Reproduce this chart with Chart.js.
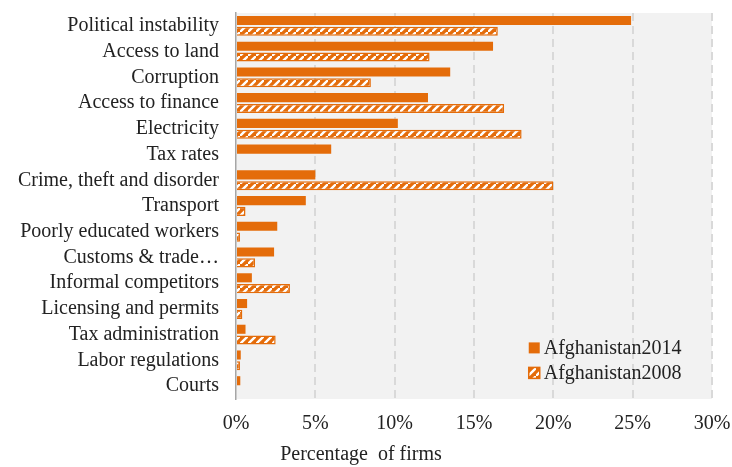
<!DOCTYPE html>
<html>
<head>
<meta charset="utf-8">
<script src="https://cdn.jsdelivr.net/npm/chart.js@4.4.1/dist/chart.umd.min.js"></script>
<style>
  html, body { margin: 0; padding: 0; background: #ffffff; }
  #wrap { width: 732px; height: 467px; }
</style>
</head>
<body>
<div id="wrap"><canvas id="barChart"></canvas></div>
<script>
// categories, top to bottom
const obstacles = ['Political instability', 'Access to land', 'Corruption', 'Access to finance',
  'Electricity', 'Tax rates', 'Crime, theft and disorder', 'Transport', 'Poorly educated workers',
  'Customs & trade\u2026', 'Informal competitors', 'Licensing and permits', 'Tax administration',
  'Labor regulations', 'Courts'];

// percentage of firms naming it the biggest obstacle
const afg2014 = [24.9, 16.2, 13.5, 12.1, 10.2, 6.0, 5.0, 4.4, 2.6, 2.4, 1.0, 0.7, 0.6, 0.3, 0.27];
const afg2008 = [16.5, 12.2, 8.5, 16.9, 18.0, 0, 20.0, 0.6, 0.25, 1.2, 3.4, 0.4, 2.5, 0.25, 0];

const xTicks = [0, 5, 10, 15, 20, 25, 30];
const xTitle = 'Percentage  of firms';

const orange = '#E46C0A';
const fontFam = "'Liberation Serif', 'DejaVu Serif', serif";
const fontSize = 20;

// hatched fill for the 2008 series
function makeHatch() {
  const c = document.createElement('canvas');
  c.width = 8; c.height = 8;
  const g = c.getContext('2d');
  g.fillStyle = orange;
  g.fillRect(0, 0, 8, 8);
  g.strokeStyle = '#ffffff';
  g.lineWidth = 2.4;
  g.beginPath();
  g.moveTo(-2, 10); g.lineTo(10, -2);
  g.stroke();
  return g.createPattern(c, 'repeat');
}
const hatch = makeHatch();

// grey plot background
const plotBg = {
  id: 'plotBg',
  beforeDraw(chart) {
    const { ctx, chartArea: a } = chart;
    ctx.save();
    ctx.fillStyle = '#f2f2f2';
    ctx.fillRect(a.left, a.top, a.right - a.left, a.bottom - a.top);
    ctx.restore();
  }
};

// legend inside the plot (bottom right) + axis title under the ticks
const extras = {
  id: 'extras',
  afterDraw(chart) {
    const { ctx } = chart;
    const x = chart.scales.x.getPixelForValue(18.45);
    const y0 = chart.scales.y.getPixelForValue(13) - 13;
    ctx.save();
    ctx.font = fontSize + 'px ' + fontFam;
    ctx.textBaseline = 'middle';
    chart.data.datasets.forEach((ds, i) => {
      const y = y0 + i * 25;
      ctx.fillStyle = ds.backgroundColor;
      ctx.fillRect(x, y - 5, 11, 11);
      if (i === 1) {
        ctx.strokeStyle = orange;
        ctx.lineWidth = 1.5;
        ctx.strokeRect(x, y - 5, 11, 11);
      }
      ctx.fillStyle = '#222222';
      ctx.fillText(ds.label, x + 15, y + 1);
    });
    ctx.textAlign = 'center';
    ctx.fillText(xTitle, 361, 455);
    ctx.restore();
  }
};

const ctx = document.getElementById('barChart').getContext('2d');
new Chart(ctx, {
  type: 'bar',
  data: {
    labels: obstacles,
    datasets: [
      {
        label: 'Afghanistan2014',
        data: afg2014,
        backgroundColor: orange,
        borderWidth: 0
      },
      {
        label: 'Afghanistan2008',
        data: afg2008,
        backgroundColor: hatch,
        borderColor: orange,
        borderWidth: 1.5
      }
    ]
  },
  options: {
    indexAxis: 'y',
    responsive: true,
    maintainAspectRatio: false,
    animation: false,
    categoryPercentage: 0.84,
    barPercentage: 0.84,
    layout: { padding: { left: 0, right: 0, top: 0, bottom: 18 } },
    scales: {
      x: {
        min: 0,
        max: 30,
        afterBuildTicks(scale) {
          scale.ticks = xTicks.map(v => ({ value: v }));
        },
        grid: {
          color: ctx => ctx.tick && ctx.tick.value === 0 ? 'rgba(0,0,0,0)' : '#d9d9d9',
          lineWidth: 2,
          drawTicks: false
        },
        border: { display: false, dash: [8, 5] },
        ticks: {
          color: '#222222',
          font: { family: fontFam, size: fontSize },
          padding: 13,
          callback: v => v + '%'
        },
        afterFit(scale) {
          scale.paddingLeft = 0;
          scale.paddingRight = 20;
        }
      },
      y: {
        grid: { display: false, drawTicks: false },
        border: { display: true, color: '#a6a6a6', width: 1.5 },
        ticks: {
          color: '#222222',
          font: { family: fontFam, size: fontSize },
          padding: 17,
          autoSkip: false
        },
        afterFit(scale) {
          scale.width = 236;
          scale.paddingTop = 13;
          scale.paddingBottom = 0;
        }
      }
    },
    plugins: {
      legend: { display: false },
      tooltip: { enabled: false }
    }
  },
  plugins: [plotBg, extras]
});
</script>
</body>
</html>
